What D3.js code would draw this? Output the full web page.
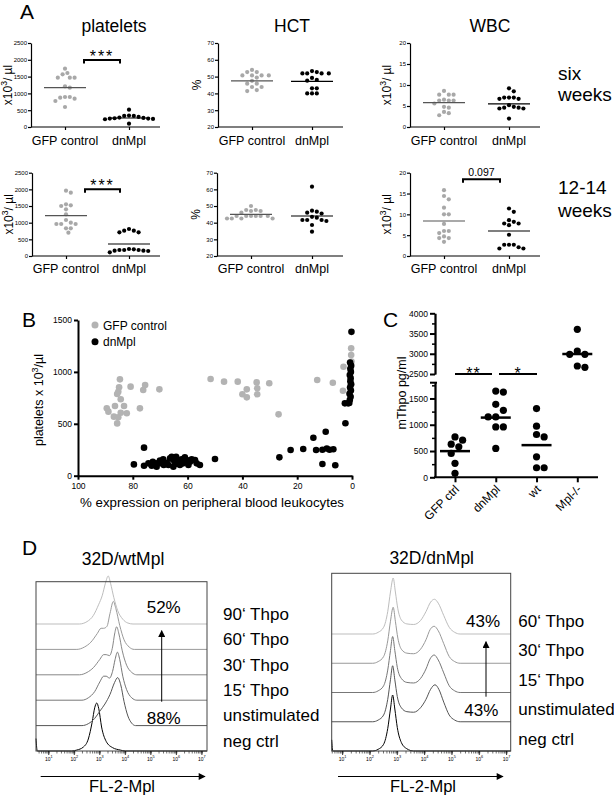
<!DOCTYPE html>
<html><head><meta charset="utf-8">
<script src="https://cdn.jsdelivr.net/npm/d3@7"></script>
<style>
body{margin:0;background:#fff;}
svg{display:block;font-family:"Liberation Sans",Arial,Helvetica,sans-serif;}
</style></head><body>
<svg id="fig" width="614" height="797"></svg>
<script>
// ---------------- DATA ----------------
const groupsA = ["GFP control", "dnMpl"];
const platTicks = [0, 500, 1000, 1500, 2000, 2500];
const hctTicks = [20, 30, 40, 50, 60, 70];
const wbcTicks = [0, 5, 10, 15, 20];

// six weeks
const plat6GFP = [1736, 1607, 1468, 1468, 1468, 1567, 1210, 1170, 893, 873, 843, 893, 774, 595];
const plat6Dn  = [516, 330, 330, 300, 280, 260, 340, 250, 270, 240, 250, 99, 230];
const plat6Means = [1170, 268];
const hct6GFP = [54, 52.7, 52.7, 50.7, 50.7, 50.7, 50.7, 49.4, 47.5, 45.8, 45.8, 43.8, 43.8, 41.4, 42];
const hct6Dn  = [53.3, 51.9, 51.9, 51.9, 51.9, 52.7, 49.2, 47.6, 48, 43, 43, 40, 40, 40];
const hct6Means = [47.4, 47.2];
const wbc6GFP = [8.6, 7.7, 7.7, 7.7, 6.5, 6.3, 6.3, 6.3, 5.6, 4.8, 4.6, 3.6, 3.3, 2.8];
const wbc6Dn  = [9.2, 8.5, 7, 7, 6.7, 6.7, 7, 5.2, 4.6, 4.4, 4.4, 4.6, 4.8, 2];
const wbc6Means = [5.8, 5.5];
// 12-14 weeks
const plat12GFP = [1960, 1900, 1550, 1520, 1500, 1400, 1250, 1080, 960, 960, 960, 1000, 830, 830, 700];
const plat12Dn  = [760, 710, 710, 760, 810, 200, 180, 160, 160, 110, 150, 180, 180, 210];
const plat12Means = [1210, 360];
const hct12GFP = [50, 47.6, 47.6, 47, 47, 46, 44, 44, 44, 44, 44, 44, 42.5, 42.5, 42.5, 42.5];
const hct12Dn  = [61.6, 46.6, 47.2, 46, 45.5, 43, 43.5, 41.6, 41, 41.6, 41.6, 38.6, 34.6];
const hct12Means = [45, 44];
const wbc12GFP = [15.8, 14.4, 13.6, 11.6, 10, 10, 7.7, 6, 6, 5.5, 4.7, 4.3, 4.3, 3.4];
const wbc12Dn  = [11.4, 10.6, 8.6, 8.2, 7.8, 7.8, 7.4, 5.1, 2.7, 2.7, 2.7, 1.8, 1.8, 2.1];
const wbc12Means = [8.4, 6.0];

// Panel B: [% expression, platelets]
const bSeries = ["GFP control", "dnMpl"];
const bXTicks = [100, 80, 60, 40, 20, 0];
const bYTicks = [0, 500, 1000, 1500];
const bGFP = [[89.5,649],[88.9,617],[86.5,671],[86.9,569],[85.7,504],[85.3,562],[84.7,928],[85.0,851],[85.3,809],[85.7,787],
  [84.4,736],[83.2,671],[84.4,607],[82.2,601],[80.8,858],[77.4,649],[76.2,825],[75.5,874],[70.3,832],[51.6,931],[46.7,906],
  [41.7,906],[40,784],[38.4,755],[38.4,832],[34.8,899],[34.6,842],[34.6,784],[30.2,890],[26.8,591],[12.7,922],[7,896],
  [3.1,1050],[3.3,819],[0.3,1227],[0.3,1163],[0.2,1100],[0.6,874]];
const bDn = [[79.6,109],[75.9,270],[75.9,96],[74.3,119],[73.1,96],[71.5,119],[70.1,145],[68.9,157],[67.6,125],[66.4,167],
  [65.8,183],[65.2,151],[64.2,183],[63.4,125],[62.2,157],[61.6,119],[60.3,151],[59.7,103],[58.5,157],[57.3,151],[56.7,119],
  [55.5,103],[71.3,87],[67.0,103],[64.5,112],[62.8,103],[61,177],[59.1,135],[65.2,87],[68.7,103],[72.7,135],[69.6,119],[64.0,145],
  [50,161],[26.5,177],[22.4,247],[17.8,257],[14.1,366],[13.1,247],[10.8,250],[9.6,424],[9.2,262],[8.2,250],[6.8,255],
  [10.8,113],[6.1,100],[2.4,505],[2.6,697],[1.4,697],[0.8,730],[0.5,760],[0.9,790],[0.4,820],[0.7,850],[0.3,880],[0.6,910],
  [0.5,940],[0.8,970],[0.4,1000],[0.6,1030],[0.3,1060],[0.7,1090],[0.2,1386],[1.0,700]];

// Panel C
const catsC = ["GFP ctrl", "dnMpl", "wt", "Mpl-/-"];
const cValues = [
  [706, 630, 580, 769, 455, 265, 76],
  [1640, 1621, 1388, 1275, 1148, 1148, 958, 958, 549],
  [1307, 972, 769, 814, 390, 182, 182],
  [3605, 2987, 2987, 3068, 2665, 2698]
];
const cMeans = [498, 1136, 612, 2994];
const cLowTicks = [0, 500, 1000, 1500];
const cLowMinor = [250, 750, 1250, 1750];
const cUpTicks = [2500, 3000, 3500, 4000];
const cUpMinor = [2750, 3250, 3750];

// Panel D: histograms, [log10 FL-2, % of peak]
const dDecades = [1, 2, 3, 4, 5, 6, 7];
const histLabelsL = ["neg ctrl", "unstimulated", "15\u2018 Thpo", "30\u2018 Thpo", "60\u2018 Thpo", "90\u2018 Thpo"];
const histL = [
  [[0.5,26],[0.55,0],[1.9,0],[2.1,2],[2.35,8],[2.55,25],[2.7,60],[2.8,90],[2.88,100],[2.96,88],[3.07,50],[3.25,20],[3.5,7],[3.8,2],[4.0,0],[7.2,0]],
  [[0.5,0],[2.3,0],[2.55,4],[2.8,15],[3.0,30],[3.2,45],[3.4,65],[3.58,90],[3.7,100],[3.82,85],[3.95,50],[4.1,20],[4.25,5],[4.4,0],[7.2,0]],
  [[0.5,0],[2.3,0],[2.55,5],[2.8,18],[3.0,38],[3.15,50],[3.25,50],[3.38,46],[3.5,60],[3.6,85],[3.69,100],[3.78,85],[3.9,50],[4.05,22],[4.25,5],[4.45,0],[7.2,0]],
  [[0.5,0],[2.2,0],[2.5,5],[2.75,15],[3.0,32],[3.15,42],[3.25,42],[3.38,40],[3.5,58],[3.58,85],[3.66,100],[3.75,85],[3.88,50],[4.05,20],[4.25,5],[4.45,0],[7.2,0]],
  [[0.5,0],[2.1,0],[2.4,5],[2.65,15],[2.9,33],[3.05,44],[3.15,44],[3.28,48],[3.4,75],[3.53,100],[3.63,85],[3.78,50],[3.95,20],[4.15,5],[4.35,0],[7.2,0]],
  [[0.5,0],[2.2,0],[2.5,5],[2.75,18],[2.95,40],[3.1,60],[3.22,85],[3.33,100],[3.42,85],[3.55,55],[3.7,28],[3.9,10],[4.1,2],[4.3,0],[7.2,0]]
];
const histLabelsR = ["neg ctrl", "unstimulated", "15\u2018 Thpo", "30\u2018 Thpo", "60\u2018 Thpo"];
const histR = [
  [[0.6,20],[0.64,0],[2.1,0],[2.3,3],[2.5,12],[2.65,40],[2.75,75],[2.83,100],[2.91,75],[3.0,42],[3.15,15],[3.35,4],[3.6,0],[7.15,0]],
  [[0.6,0],[2.1,0],[2.3,3],[2.5,12],[2.65,40],[2.75,75],[2.83,100],[2.91,75],[3.0,45],[3.15,25],[3.35,18],[3.6,17],[3.85,25],[4.05,40],[4.22,58],[4.38,66],[4.52,58],[4.7,35],[4.9,12],[5.1,3],[5.3,0],[7.15,0]],
  [[0.6,0],[2.1,0],[2.3,3],[2.5,12],[2.65,40],[2.75,75],[2.83,100],[2.91,75],[3.0,45],[3.15,25],[3.35,18],[3.6,17],[3.85,25],[4.05,42],[4.2,60],[4.35,67],[4.5,58],[4.7,35],[4.9,12],[5.1,3],[5.3,0],[7.15,0]],
  [[0.6,0],[2.1,0],[2.3,3],[2.5,12],[2.65,40],[2.75,75],[2.85,100],[2.93,75],[3.02,45],[3.15,25],[3.35,18],[3.6,17],[3.85,25],[4.05,42],[4.2,60],[4.35,66],[4.5,58],[4.7,35],[4.9,12],[5.1,3],[5.3,0],[7.15,0]],
  [[0.6,0],[2.1,0],[2.3,3],[2.5,12],[2.65,40],[2.75,75],[2.85,100],[2.93,75],[3.02,45],[3.15,25],[3.35,18],[3.6,17],[3.85,24],[4.05,40],[4.22,57],[4.36,62],[4.5,55],[4.7,33],[4.9,12],[5.1,3],[5.3,0],[7.15,0]]
];
const histColorsL = ["#000", "#555", "#777", "#888", "#9a9a9a", "#bdbdbd"];
const histColorsR = ["#000", "#555", "#777", "#999", "#bdbdbd"];

// ---------------- DRAWING ----------------
const svg = d3.select("#fig");
const FONT = '"Liberation Sans", Arial, Helvetica, sans-serif';

function txt(x, y, s, size, anchor = "start", fill = "#000") {
  return svg.append("text").attr("x", x).attr("y", y).attr("font-size", size)
    .attr("text-anchor", anchor).attr("fill", fill).text(s);
}
function styleAxis(g, fs, sw) {
  g.attr("font-family", FONT).attr("font-size", fs);
  g.select(".domain").attr("stroke-width", sw);
  g.selectAll(".tick line").attr("stroke-width", sw);
}
function swarm(vals, y, r, gap = 0.6) {
  const pts = vals.map(v => ({ cy: y(v), dx: 0 })).sort((a, b) => a.cy - b.cy);
  const placed = [], D = 2 * r + gap, s = D / 2;
  pts.forEach(p => {
    for (let k = 0; k < 80; k++) {
      const dx = k === 0 ? 0 : (k % 2 ? 1 : -1) * Math.ceil(k / 2) * s;
      if (placed.every(q => (q.dx - dx) ** 2 + (q.cy - p.cy) ** 2 >= D * D)) { p.dx = dx; break; }
    }
    placed.push(p);
  });
  return pts;
}
function rotLabel(x, y, size, parts) {
  const t = svg.append("text").attr("transform", `translate(${x},${y}) rotate(-90)`)
    .attr("text-anchor", "middle").attr("font-size", size);
  parts.forEach(p => {
    const ts = t.append("tspan").text(p.t);
    if (p.sup) ts.attr("dy", -size * 0.4).attr("font-size", size * 0.72);
    if (p.down) ts.attr("dy", size * 0.4);
  });
  return t;
}
const unitParts = [{ t: "x10" }, { t: "3", sup: true }, { t: "/ µl", down: true }];
const intFmt = d3.format("d");

// ---- Panel A ----
txt(20, 19, "A", 21);
txt(114, 31.5, "platelets", 17.5, "middle");
txt(292, 31.5, "HCT", 17.5, "middle");
txt(490, 31.5, "WBC", 17.5, "middle");
txt(558, 80, "six", 19);
txt(558, 100.5, "weeks", 19);
txt(558, 194.3, "12-14", 19);
txt(558, 216.5, "weeks", 19);

function dotPlot(o) {
  const y = d3.scaleLinear().domain([o.ticks[0], o.ticks[o.ticks.length - 1]]).range([o.yB, o.yT]);
  const x = d3.scalePoint().domain(groupsA).range([o.x0 + 34, o.x1 - 31]);
  const ya = svg.append("g").attr("transform", `translate(${o.x0},0)`)
    .call(d3.axisLeft(y).tickValues(o.ticks).tickSize(3).tickSizeOuter(0).tickPadding(1).tickFormat(intFmt));
  styleAxis(ya, 6, 1.2);
  const xa = svg.append("g").attr("transform", `translate(0,${o.yB})`)
    .call(d3.axisBottom(x).tickSize(3).tickFormat(""));
  xa.select(".domain").remove();
  xa.selectAll(".tick line").attr("stroke-width", 1.2);
  svg.append("line").attr("x1", o.x0).attr("x2", o.x1).attr("y1", o.yB).attr("y2", o.yB)
    .attr("stroke", "#000").attr("stroke-width", 1.2);
  groupsA.forEach(c => txt(x(c), o.labY, c, 12.5, "middle"));
  const sets = [{ vals: o.gfp, fill: "#a8a8a8", line: "#555" }, { vals: o.dn, fill: "#000", line: "#000" }];
  sets.forEach((s, i) => {
    const cx = x(groupsA[i]);
    svg.append("g").selectAll("circle").data(swarm(s.vals, y, 2.1)).join("circle")
      .attr("cx", p => cx + p.dx).attr("cy", p => p.cy).attr("r", 2.1).attr("fill", s.fill);
    svg.append("line").attr("x1", cx - 21).attr("x2", cx + 21)
      .attr("y1", y(o.means[i])).attr("y2", y(o.means[i])).attr("stroke", s.line).attr("stroke-width", 1.2);
  });
  if (o.ylab === "unit") rotLabel(o.x0 - 19, (o.yT + o.yB) / 2, 12, unitParts);
  else rotLabel(o.x0 - 17, (o.yT + o.yB) / 2, 12, [{ t: "%" }]);
  if (o.bracket) {
    const xa1 = x(groupsA[0]) + 19, xa2 = x(groupsA[1]) - 9, by = o.bracket.y;
    svg.append("path").attr("d", `M${xa1},${by + 3.5}V${by}H${xa2}V${by + 3.5}`)
      .attr("fill", "none").attr("stroke", "#000").attr("stroke-width", 2);
    if (o.bracket.stars) {
      txt((xa1 + xa2) / 2, by + 1.5, o.bracket.label, 16, "middle").attr("letter-spacing", 2);
    } else {
      txt((xa1 + xa2) / 2, by - 3, o.bracket.label, 10.5, "middle");
    }
  }
}
const rowTop = { yT: 43, yB: 127, labY: 145 };
const rowBot = { yT: 172.7, yB: 256, labY: 273 };
dotPlot({ ...rowTop, x0: 31, x1: 160, ticks: platTicks, gfp: plat6GFP, dn: plat6Dn, means: plat6Means, ylab: "unit", bracket: { y: 60, label: "***", stars: true } });
dotPlot({ ...rowTop, x0: 218, x1: 343, ticks: hctTicks, gfp: hct6GFP, dn: hct6Dn, means: hct6Means, ylab: "%" });
dotPlot({ ...rowTop, x0: 410, x1: 540, ticks: wbcTicks, gfp: wbc6GFP, dn: wbc6Dn, means: wbc6Means, ylab: "unit" });
dotPlot({ ...rowBot, x0: 32, x1: 160, ticks: platTicks, gfp: plat12GFP, dn: plat12Dn, means: plat12Means, ylab: "unit", bracket: { y: 189.3, label: "***", stars: true } });
dotPlot({ ...rowBot, x0: 217, x1: 343, ticks: hctTicks, gfp: hct12GFP, dn: hct12Dn, means: hct12Means, ylab: "%" });
dotPlot({ ...rowBot, x0: 410, x1: 540, ticks: wbcTicks, gfp: wbc12GFP, dn: wbc12Dn, means: wbc12Means, ylab: "unit", bracket: { y: 179.3, label: "0.097" } });

// ---- Panel B ----
txt(22, 327, "B", 21);
{
  const x = d3.scaleLinear().domain([100, 0]).range([78, 352]);
  const y = d3.scaleLinear().domain([0, 1500]).range([475.7, 320]);
  const xa = svg.append("g").attr("transform", "translate(0,475.7)")
    .call(d3.axisBottom(x).tickValues(bXTicks).tickSize(4).tickSizeOuter(0).tickPadding(3).tickFormat(intFmt));
  styleAxis(xa, 8.5, 2);
  const ya = svg.append("g").attr("transform", "translate(78,0)")
    .call(d3.axisLeft(y).tickValues(bYTicks).tickSize(4).tickSizeOuter(0).tickPadding(2).tickFormat(intFmt));
  styleAxis(ya, 8.5, 2);
  const cols = ["#b3b3b3", "#000"];
  [bGFP, bDn].forEach((data, i) => {
    svg.append("g").selectAll("circle").data(data).join("circle")
      .attr("cx", d => x(d[0])).attr("cy", d => y(d[1])).attr("r", 3.3).attr("fill", cols[i]);
  });
  bSeries.forEach((s, i) => {
    svg.append("circle").attr("cx", 95).attr("cy", 325 + i * 16.7).attr("r", 3.5).attr("fill", cols[i]);
    txt(103, 329.5 + i * 16.7, s, 12);
  });
  txt(212, 507, "% expression on peripheral blood leukocytes", 13.3, "middle");
  rotLabel(43, 400, 12.5, [{ t: "platelets x 10" }, { t: "3", sup: true }, { t: "/µl", down: true }]);
}

// ---- Panel C ----
txt(383, 327, "C", 21);
{
  const x = d3.scalePoint().domain(catsC).range([455, 577.3]);
  const yLow = d3.scaleLinear().domain([0, 1800]).range([477.3, 382.7]);
  const yUp = d3.scaleLinear().domain([2500, 4000]).range([374, 313.3]);
  const y = v => (v >= 2500 ? yUp(v) : yLow(v));
  const ga = svg.append("g").attr("transform", "translate(435,0)")
    .call(d3.axisLeft(yLow).tickValues(cLowTicks).tickSize(5).tickSizeOuter(0).tickPadding(2).tickFormat(intFmt));
  styleAxis(ga, 8.5, 2);
  const gm = svg.append("g").attr("transform", "translate(435,0)")
    .call(d3.axisLeft(yLow).tickValues(cLowMinor).tickSize(3).tickSizeOuter(0).tickFormat(""));
  styleAxis(gm, 8.5, 1.5);
  const gu = svg.append("g").attr("transform", "translate(435,0)")
    .call(d3.axisLeft(yUp).tickValues(cUpTicks).tickSize(5).tickSizeOuter(0).tickPadding(2).tickFormat(intFmt));
  styleAxis(gu, 8.5, 2);
  const gum = svg.append("g").attr("transform", "translate(435,0)")
    .call(d3.axisLeft(yUp).tickValues(cUpMinor).tickSize(3).tickSizeOuter(0).tickFormat(""));
  styleAxis(gum, 8.5, 1.5);
  svg.append("line").attr("x1", 430).attr("x2", 437).attr("y1", 382.7).attr("y2", 382.7).attr("stroke", "#000").attr("stroke-width", 2);
  const xa = svg.append("g").attr("transform", "translate(0,477.3)")
    .call(d3.axisBottom(x).tickSize(5).tickFormat(""));
  xa.select(".domain").remove();
  xa.selectAll(".tick line").attr("stroke-width", 2);
  svg.append("line").attr("x1", 434).attr("x2", 598).attr("y1", 477.3).attr("y2", 477.3).attr("stroke", "#000").attr("stroke-width", 2);
  catsC.forEach(c => {
    svg.append("text").attr("transform", `translate(${x(c) + 5},${490}) rotate(-45)`)
      .attr("text-anchor", "end").attr("font-size", 12).text(c);
  });
  cValues.forEach((vals, i) => {
    const cx = x(catsC[i]);
    svg.append("g").selectAll("circle").data(swarm(vals, y, 3.6, 0.4)).join("circle")
      .attr("cx", p => cx + p.dx).attr("cy", p => p.cy).attr("r", 3.6).attr("fill", "#000");
    svg.append("line").attr("x1", cx - 15).attr("x2", cx + 15).attr("y1", y(cMeans[i])).attr("y2", y(cMeans[i]))
      .attr("stroke", "#000").attr("stroke-width", 2.5);
  });
  const sig = [{ l: "**", x1: 455, x2: 492 }, { l: "*", x1: 499, x2: 537 }];
  sig.forEach(s => {
    svg.append("line").attr("x1", s.x1).attr("x2", s.x2).attr("y1", 374).attr("y2", 374).attr("stroke", "#000").attr("stroke-width", 2);
    txt((s.x1 + s.x2) / 2, 378.5, s.l, 16, "middle").attr("letter-spacing", 1);
  });
  rotLabel(406, 393, 12.5, [{ t: "mThpo pg/ml" }]);
}

// ---- Panel D ----
txt(22, 555, "D", 21);
svg.append("defs").append("marker").attr("id", "ah").attr("viewBox", "0 0 10 10")
  .attr("refX", 9).attr("refY", 5).attr("markerWidth", 9).attr("markerHeight", 7)
  .attr("markerUnits", "userSpaceOnUse").attr("orient", "auto")
  .append("path").attr("d", "M0,0L10,5L0,10Z").attr("fill", "#000");

function histBox(o) {
  const x = d3.scaleLog().domain([10 ** o.e0, 10 ** o.e1]).range([o.x0, o.x1]);
  o.hists.forEach((h, k) => {
    const base = o.yB - k * o.step;
    const yh = d3.scaleLinear().domain([0, 100]).range([base, base - o.peak]);
    const line = d3.line().x(d => x(10 ** d[0])).y(d => yh(d[1])).curve(d3.curveMonotoneX);
    svg.append("path").attr("d", line(h)).attr("fill", "none").attr("stroke", o.colors[k]).attr("stroke-width", 1);
    txt(o.labX, o.labY0 - k * o.labStep, o.labels[k], 17);
  });
  svg.append("rect").attr("x", o.x0).attr("y", o.yT).attr("width", o.x1 - o.x0).attr("height", o.yB - o.yT)
    .attr("fill", "none").attr("stroke", "#444").attr("stroke-width", 1);
  const minor = [];
  for (let e = Math.floor(o.e0); e <= Math.ceil(o.e1); e++)
    for (let m = 1; m < 10; m++) { const v = m * 10 ** e; if (v >= 10 ** o.e0 && v <= 10 ** o.e1) minor.push(v); }
  const ax = svg.append("g").attr("transform", `translate(0,${o.yB})`)
    .call(d3.axisBottom(x).tickValues(minor).tickSize(2.5).tickSizeOuter(0).tickFormat(""));
  ax.select(".domain").remove();
  ax.selectAll(".tick line").attr("stroke", "#333").attr("stroke-width", 0.7);
  dDecades.forEach(e => {
    svg.append("line").attr("x1", x(10 ** e)).attr("x2", x(10 ** e)).attr("y1", o.yB).attr("y2", o.yB + 4)
      .attr("stroke", "#000").attr("stroke-width", 0.8);
    const t = svg.append("text").attr("x", x(10 ** e)).attr("y", o.yB + 9.5).attr("font-size", 5).attr("text-anchor", "middle");
    t.append("tspan").text("10");
    t.append("tspan").attr("dy", -2.5).attr("font-size", 3.8).text(e);
  });
  svg.append("line").attr("x1", o.arrX0).attr("x2", o.arrX1).attr("y1", 776.5).attr("y2", 776.5)
    .attr("stroke", "#000").attr("stroke-width", 1).attr("marker-end", "url(#ah)");
  txt(o.flX, 792, "FL-2-Mpl", 16.5, "middle");
  txt(o.titleX, o.titleY, o.title, 17.5, "middle");
}
histBox({ x0: 36, x1: 207, e0: 0.5, e1: 7.2, yT: 581.7, yB: 751, step: 25.4, peak: 48, hists: histL, colors: histColorsL,
  labels: histLabelsL, labX: 223, labY0: 746.5, labStep: 25.3, arrX0: 40.7, arrX1: 205, flX: 122,
  title: "32D/wtMpl", titleX: 123, titleY: 565 });
histBox({ x0: 331.7, x1: 510.7, e0: 0.6, e1: 7.15, yT: 573.3, yB: 751, step: 29.25, peak: 56, hists: histR, colors: histColorsR,
  labels: histLabelsR, labX: 518.3, labY0: 745, labStep: 29.6, arrX0: 338, arrX1: 503, flX: 423,
  title: "32D/dnMpl", titleX: 431.7, titleY: 563.5 });
txt(146.7, 613.3, "52%", 17);
txt(146.7, 724, "88%", 17);
svg.append("line").attr("x1", 161.7).attr("x2", 161.7).attr("y1", 701.7).attr("y2", 630.7)
  .attr("stroke", "#000").attr("stroke-width", 1).attr("marker-end", "url(#ah)");
txt(500, 626.7, "43%", 17, "end");
txt(498.3, 716, "43%", 17, "end");
svg.append("line").attr("x1", 486).attr("x2", 486).attr("y1", 696.7).attr("y2", 641.7)
  .attr("stroke", "#000").attr("stroke-width", 1).attr("marker-end", "url(#ah)");
</script>
</body></html>
